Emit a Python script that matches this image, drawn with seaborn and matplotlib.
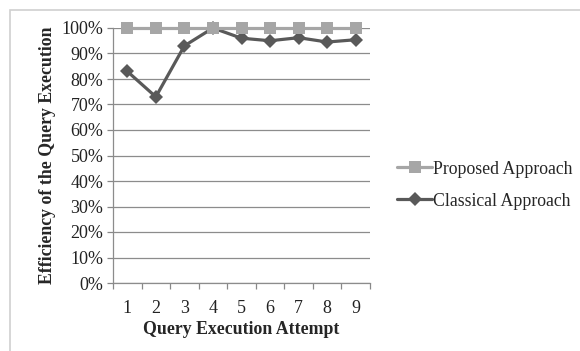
import matplotlib
matplotlib.use("Agg")
import matplotlib.pyplot as plt
from matplotlib.patches import Rectangle
from matplotlib.ticker import PercentFormatter, FixedLocator
import seaborn as sns
import pandas as pd

attempts = [1, 2, 3, 4, 5, 6, 7, 8, 9]
proposed = [100, 100, 100, 100, 100, 100, 100, 100, 100]
classical = [83, 73, 93, 100, 96, 95, 96.2, 94.5, 95.4]
series_names = ["Proposed Approach", "Classical Approach"]

df = pd.DataFrame({
    "Attempt": attempts * 2,
    "Efficiency": proposed + classical,
    "Series": [series_names[0]] * len(attempts) + [series_names[1]] * len(attempts),
})

sns.set_theme(style="white")
plt.rcParams["font.family"] = ["Liberation Serif", "DejaVu Serif"]

fig = plt.figure(figsize=(5.8, 3.51), dpi=100)
fig.patch.set_facecolor("white")

# outer chart frame
fig.add_artist(Rectangle((10 / 580, -0.05), 1.2, 1 - 10 / 351 + 0.05,
                         transform=fig.transFigure, fill=False,
                         edgecolor="#d0d0d0", linewidth=1.2))

ax = fig.add_axes([113 / 580, 1 - 283 / 351, (370 - 113) / 580, (283 - 28) / 351])

palette = {series_names[0]: "#a6a6a6", series_names[1]: "#595959"}
markers = {series_names[0]: "s", series_names[1]: "D"}
sns.lineplot(data=df, x="Attempt", y="Efficiency", hue="Series", style="Series",
             palette=palette, markers=markers, dashes=False, linewidth=2.3,
             markersize=9, markeredgewidth=0, ax=ax, legend=True)
for line in ax.lines:
    line.set_clip_on(False)
    if line.get_marker() == "D":
        line.set_markersize(7)
        line.set_zorder(3)
    elif line.get_marker() == "s":
        line.set_zorder(4)

ax.set_xlim(0.5, 9.5)
ax.set_ylim(0, 100)
ax.yaxis.set_major_locator(FixedLocator(list(range(0, 101, 10))))
ax.yaxis.set_major_formatter(PercentFormatter(decimals=0))
ax.set_xticks(attempts)
ax.set_xticklabels([str(a) for a in attempts])
ax.xaxis.set_minor_locator(FixedLocator([a + 0.5 for a in [0] + attempts]))
ax.tick_params(axis="x", which="major", length=0, pad=12, labelsize=13, colors="#222222")
ax.tick_params(axis="x", which="minor", length=4, width=0.9, color="#888888", bottom=True)
ax.tick_params(axis="y", length=4, width=0.9, color="#888888", left=True,
               labelsize=13, pad=3, labelcolor="#222222")

ax.grid(axis="y", color="#8c8c8c", linewidth=0.9)
ax.grid(axis="x", visible=False)
ax.set_axisbelow(True)
for side in ["top", "right"]:
    ax.spines[side].set_visible(False)
for side in ["left", "bottom"]:
    ax.spines[side].set_color("#8c8c8c")
    ax.spines[side].set_linewidth(0.9)

ax.set_xlabel("Query Execution Attempt", fontsize=12.8, fontweight="bold", labelpad=3)
ax.set_ylabel("Efficiency of the Query Execution", fontsize=12.8, fontweight="bold", labelpad=4)

handles, labels = ax.get_legend_handles_labels()
ax.legend(handles, labels, loc="center left", bbox_to_anchor=(1.077, 0.384),
          frameon=False, fontsize=12.8, handlelength=2.0, handletextpad=0.05,
          labelspacing=0.85, borderaxespad=0)

fig.savefig("out.png", dpi=100, facecolor="white")
